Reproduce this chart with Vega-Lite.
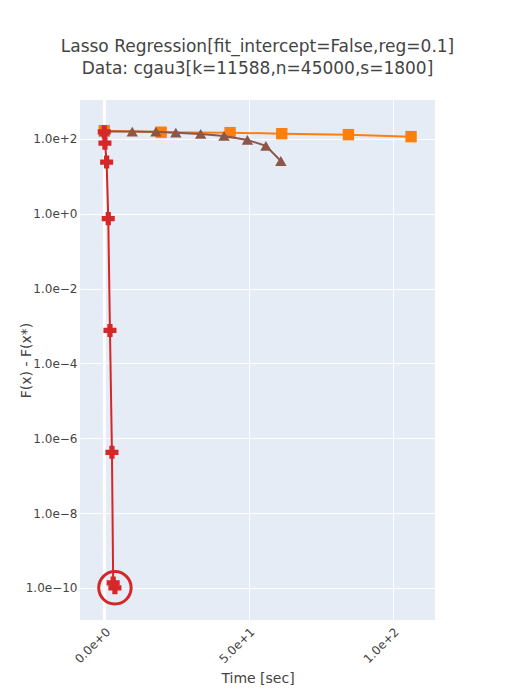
{
  "$schema": "https://vega.github.io/schema/vega-lite/v6.json",
  "width": 355,
  "height": 520,
  "autosize": {"type": "none"},
  "padding": {"left": 80, "top": 100, "right": 80, "bottom": 80},
  "background": "white",
  "title": {
    "text": ["Lasso Regression[fit_intercept=False,reg=0.1]", "Data: cgau3[k=11588,n=45000,s=1800]"],
    "fontSize": 17,
    "font": "DejaVu Sans",
    "fontWeight": "normal",
    "color": "#444",
    "anchor": "middle",
    "offset": 21,
    "lineHeight": 22
  },
  "config": {
    "view": {"fill": "#E5ECF6", "stroke": null},
    "axis": {
      "domain": false,
      "ticks": false,
      "grid": true,
      "gridColor": "white",
      "gridWidth": 1,
      "labelFont": "DejaVu Sans",
      "labelFontSize": 12,
      "labelColor": "#444",
      "titleFont": "DejaVu Sans",
      "titleFontSize": 14,
      "titleFontWeight": "normal",
      "titleColor": "#444"
    }
  },
  "data": {
    "values": [
      {"series": "fista", "time": 0, "gap": 166},
      {"series": "fista", "time": 19.7, "gap": 151},
      {"series": "fista", "time": 43.6, "gap": 147},
      {"series": "fista", "time": 61.5, "gap": 138},
      {"series": "fista", "time": 84.6, "gap": 130},
      {"series": "fista", "time": 106.3, "gap": 115},
      {"series": "ista", "time": 0, "gap": 157},
      {"series": "ista", "time": 9.7, "gap": 157},
      {"series": "ista", "time": 17.9, "gap": 156},
      {"series": "ista", "time": 24.8, "gap": 147},
      {"series": "ista", "time": 33.4, "gap": 136},
      {"series": "ista", "time": 41.5, "gap": 120},
      {"series": "ista", "time": 49.6, "gap": 94},
      {"series": "ista", "time": 56.0, "gap": 65},
      {"series": "ista", "time": 61.2, "gap": 25.6},
      {"series": "newton", "time": 0, "gap": 155},
      {"series": "newton", "time": 0.24, "gap": 77},
      {"series": "newton", "time": 0.83, "gap": 24},
      {"series": "newton", "time": 1.39, "gap": 0.74},
      {"series": "newton", "time": 1.98, "gap": 0.00076},
      {"series": "newton", "time": 2.67, "gap": 4.2e-7},
      {"series": "newton", "time": 3.1, "gap": 1.35e-10},
      {"series": "newton", "time": 3.7, "gap": 1.0e-10, "final": true}
    ]
  },
  "encoding": {
    "x": {
      "field": "time",
      "type": "quantitative",
      "title": "Time [sec]",
      "scale": {"domain": [-8.4, 114.6], "nice": false, "zero": false},
      "axis": {"values": [0, 50, 100], "labelExpr": "replace(format(datum.value, '.1e'), '-', '\u2212')", "labelAngle": -45, "labelPadding": 6, "titlePadding": 6}
    },
    "y": {
      "field": "gap",
      "type": "quantitative",
      "title": "F(x) - F(x*)",
      "scale": {"type": "log", "domain": [1.38e-11, 1096], "nice": false},
      "axis": {"values": [1e2, 1, 1e-2, 1e-4, 1e-6, 1e-8, 1e-10], "labelExpr": "replace(format(datum.value, '.1e'), '-', '\u2212')", "labelPadding": 3, "titleX": -54, "titleY": 260, "titleBaseline": "middle", "titleAlign": "center", "titleAngle": -90}
    },
    "color": {
      "field": "series",
      "type": "nominal",
      "scale": {"domain": ["fista", "ista", "newton"], "range": ["#ff7f0e", "#8c564b", "#d62728"]},
      "legend": null
    }
  },
  "layer": [
    {"mark": {"type": "rule", "color": "white", "strokeWidth": 2}, "encoding": {"x": {"datum": 0}, "y": null, "color": null}},
    {"transform": [{"filter": "datum.series == 'fista'"}], "mark": {"type": "line", "strokeWidth": 2}},
    {"transform": [{"filter": "datum.series == 'fista'"}], "mark": {"type": "point", "shape": "square", "filled": true, "opacity": 1, "size": 130}},
    {"transform": [{"filter": "datum.series == 'ista'"}], "mark": {"type": "line", "strokeWidth": 2}},
    {"transform": [{"filter": "datum.series == 'ista'"}], "mark": {"type": "point", "shape": "triangle-up", "filled": true, "opacity": 1, "size": 130}},
    {"transform": [{"filter": "datum.series == 'newton'"}], "mark": {"type": "line", "strokeWidth": 2}},
    {"transform": [{"filter": "datum.series == 'newton'"}], "mark": {"type": "point", "shape": "cross", "filled": true, "opacity": 1, "size": 170}},
    {"transform": [{"filter": "datum.final == true"}], "mark": {"type": "point", "shape": "circle", "filled": false, "opacity": 1, "strokeWidth": 3, "size": 1050}}
  ]
}
